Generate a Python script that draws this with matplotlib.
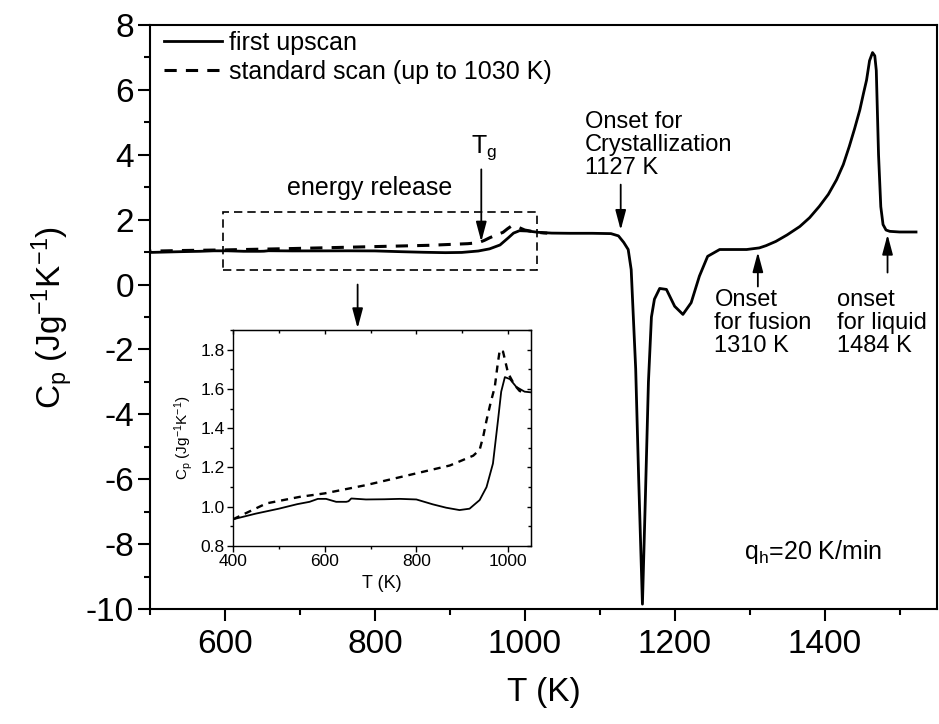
import matplotlib
matplotlib.use('Agg')
import matplotlib.pyplot as plt
from matplotlib.ticker import MultipleLocator, FormatStrFormatter
from matplotlib.patches import Rectangle

plt.rcParams['font.family'] = ['Liberation Sans', 'DejaVu Sans']
plt.rcParams['mathtext.default'] = 'regular'
plt.rcParams['axes.unicode_minus'] = False

# ---- data ----
T_first = [400, 450, 500, 540, 567, 585, 603, 625, 647, 652, 658, 690, 730, 764, 800,
           836, 865, 894, 916, 938, 953, 967, 978, 985, 993, 1004, 1018, 1036, 1060,
           1090, 1115, 1125, 1132, 1138, 1142, 1148, 1152, 1157, 1161, 1165, 1169,
           1173, 1180, 1189, 1200, 1211, 1222, 1233, 1244, 1260, 1296, 1313, 1322,
           1335, 1350, 1367, 1380, 1393, 1405, 1416, 1425, 1433, 1440, 1447, 1452,
           1456, 1460, 1464, 1467, 1469, 1472, 1475, 1478, 1482, 1487, 1500, 1522]
cp_first = [0.936, 0.965, 0.99, 1.013, 1.025, 1.04, 1.04, 1.025, 1.025, 1.028, 1.042,
            1.037, 1.038, 1.04, 1.037, 1.012, 0.995, 0.983, 0.99, 1.034, 1.10, 1.22,
            1.44, 1.586, 1.66, 1.65, 1.61, 1.586, 1.58, 1.58, 1.57, 1.50, 1.30, 1.08,
            0.46, -2.6, -6.0, -9.85, -6.5, -3.0, -1.0, -0.45, -0.12, -0.15, -0.67,
            -0.92, -0.56, 0.26, 0.87, 1.08, 1.08, 1.13, 1.2, 1.33, 1.53, 1.79, 2.06,
            2.41, 2.78, 3.23, 3.7, 4.26, 4.8, 5.38, 5.9, 6.3, 6.9, 7.15, 7.05, 6.6,
            4.0, 2.4, 1.85, 1.68, 1.64, 1.62, 1.62]

T_std = [400, 473, 545, 600, 690, 800, 873, 924, 938, 946, 953, 962, 971, 977, 982,
         989, 1000, 1014, 1025, 1030]
cp_std = [0.936, 1.017, 1.05, 1.068, 1.11, 1.17, 1.21, 1.26, 1.29, 1.36, 1.44, 1.53,
          1.61, 1.72, 1.80, 1.79, 1.68, 1.62, 1.59, 1.585]

labels = ['first upscan', 'standard scan (up to 1030 K)']

fig = plt.figure(figsize=(9.39, 7.24), dpi=100)
ax = fig.add_axes([150/939, 1 - 609/724, 787/939, 584/724])

ax.plot(T_first, cp_first, color='k', lw=2.0, label=labels[0], zorder=3)
ax.plot(T_std, cp_std, color='k', lw=2.2, ls=(0, (4, 3)), label=labels[1], zorder=4)

ax.set_xlim(500, 1550)
ax.set_ylim(-10, 8)
ax.xaxis.set_major_locator(MultipleLocator(200))
ax.xaxis.set_minor_locator(MultipleLocator(100))
ax.yaxis.set_major_locator(MultipleLocator(2))
ax.yaxis.set_minor_locator(MultipleLocator(1))
ax.tick_params(which='major', length=8.6, width=1.5, labelsize=24, direction='out')
ax.tick_params(which='minor', length=4.5, width=1.5, direction='out')
ax.tick_params(axis='x', pad=6)
ax.tick_params(axis='y', pad=3)
for s in ax.spines.values():
    s.set_linewidth(1.5)

ax.set_xlabel('T (K)', fontsize=24, labelpad=12)
ax.set_ylabel('C$_p$ (Jg$^{-1}$K$^{-1}$)', fontsize=24, labelpad=8)

leg = ax.legend(loc='upper left', bbox_to_anchor=(0.018, 0.99), frameon=False,
                fontsize=18, handlelength=2.3, handletextpad=0.3, borderpad=0,
                borderaxespad=0, labelspacing=0.2)

# energy release box
ax.add_patch(Rectangle((598, 0.45), 1016 - 598, 2.25 - 0.45, fill=False, ec='k',
                       lw=1.2, ls=(0, (5, 3)), zorder=2))
ax.text(793, 2.77, 'energy release', fontsize=18, ha='center', va='baseline')
ax.text(945, 4.06, 'T$_g$', fontsize=18, ha='center', va='baseline')
ax.text(1080, 5.35, 'Onset for\nCrystallization\n1127 K', fontsize=17, ha='left',
        va='top', linespacing=1.05)
ax.text(1253, -0.15, 'Onset\nfor fusion\n1310 K', fontsize=17, ha='left', va='top',
        linespacing=1.05)
ax.text(1417, -0.15, 'onset\nfor liquid\n1484 K', fontsize=17, ha='left', va='top',
        linespacing=1.05)
ax.text(1293, -8.46, 'q$_h$=20 K/min', fontsize=18, ha='left', va='baseline')

aprops = dict(arrowstyle='-|>,head_length=0.6,head_width=0.16', color='k', lw=1.3,
              shrinkA=0, shrinkB=0, mutation_scale=20)
for tail, head in [((942, 3.55), (942, 1.32)),
                   ((777, 0.0), (777, -1.35)),
                   ((1128, 3.08), (1128, 1.68)),
                   ((1311, -0.06), (1311, 1.0)),
                   ((1484, 0.37), (1484, 1.54))]:
    ax.annotate('', xy=head, xytext=tail, arrowprops=aprops)

# ---- inset ----
axin = fig.add_axes([233/939, 1 - 546/724, 298/939, 216/724])
axin.plot(T_first, cp_first, color='k', lw=1.3)
axin.plot(T_std, cp_std, color='k', lw=1.7, ls=(0, (3, 2.5)))
axin.set_xlim(400, 1050)
axin.set_ylim(0.8, 1.9)
axin.xaxis.set_major_locator(MultipleLocator(200))
axin.xaxis.set_minor_locator(MultipleLocator(100))
axin.yaxis.set_major_locator(MultipleLocator(0.2))
axin.yaxis.set_minor_locator(MultipleLocator(0.1))
axin.yaxis.set_major_formatter(FormatStrFormatter('%.1f'))
axin.tick_params(which='major', length=4, width=1, labelsize=12.5, pad=2)
axin.tick_params(which='minor', length=2.5, width=1)
for s in axin.spines.values():
    s.set_linewidth(1.0)
axin.set_xlabel('T (K)', fontsize=13, labelpad=4)
axin.set_ylabel('C$_p$ (Jg$^{-1}$K$^{-1}$)', fontsize=11, labelpad=4)

sx = axin.secondary_xaxis('top')
sx.xaxis.set_major_locator(MultipleLocator(200))
sx.xaxis.set_minor_locator(MultipleLocator(100))
sx.tick_params(which='both', direction='in', labeltop=False, width=1)
sx.tick_params(which='major', length=3)
sx.tick_params(which='minor', length=2)
sy = axin.secondary_yaxis('right')
sy.yaxis.set_major_locator(MultipleLocator(0.2))
sy.yaxis.set_minor_locator(MultipleLocator(0.1))
sy.tick_params(which='both', direction='in', labelright=False, width=1)
sy.tick_params(which='major', length=3)
sy.tick_params(which='minor', length=2)

fig.savefig('out.png', dpi=100)
